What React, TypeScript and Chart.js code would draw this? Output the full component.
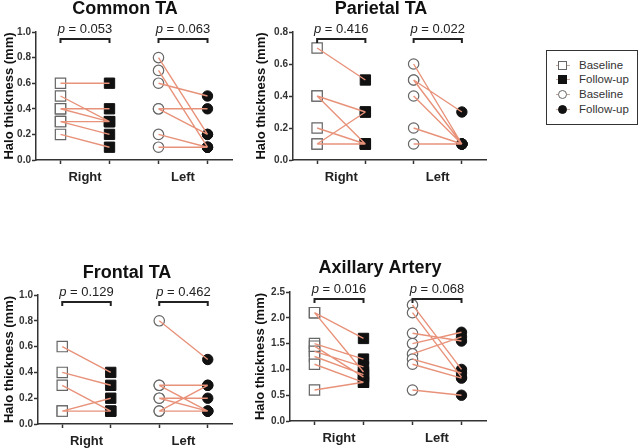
import React, { useEffect, useRef } from "react";
import { Chart, registerables } from "chart.js";

Chart.register(...registerables);

const FONT = "'Liberation Sans', Arial, Helvetica, sans-serif";
const LINE_COLOR = "#E8927A";
const AXIS_COLOR = "#333333";

const groupLabels = ["Right", "Left"];
const yAxisTitle = "Halo thickness (mm)";
const legendLabels = ["Baseline", "Follow-up", "Baseline", "Follow-up"];

// Common TA
const commonRightBaseline = [0.6, 0.5, 0.4, 0.4, 0.3, 0.3, 0.2];
const commonRightFollowUp = [0.6, 0.3, 0.4, 0.3, 0.3, 0.2, 0.1];
const commonLeftBaseline = [0.8, 0.7, 0.6, 0.4, 0.4, 0.2, 0.1];
const commonLeftFollowUp = [0.2, 0.1, 0.5, 0.4, 0.2, 0.1, 0.1];
const commonP = ["0.053", "0.063"];

// Parietal TA
const parietalRightBaseline = [0.7, 0.4, 0.4, 0.2, 0.1, 0.1];
const parietalRightFollowUp = [0.5, 0.3, 0.1, 0.1, 0.3, 0.1];
const parietalLeftBaseline = [0.6, 0.5, 0.5, 0.4, 0.2, 0.1];
const parietalLeftFollowUp = [0.1, 0.3, 0.1, 0.1, 0.1, 0.1];
const parietalP = ["0.416", "0.022"];

// Frontal TA
const frontalRightBaseline = [0.6, 0.4, 0.3, 0.1, 0.1];
const frontalRightFollowUp = [0.4, 0.3, 0.1, 0.2, 0.1];
const frontalLeftBaseline = [0.8, 0.3, 0.3, 0.2, 0.2, 0.1, 0.1];
const frontalLeftFollowUp = [0.5, 0.3, 0.1, 0.2, 0.1, 0.3, 0.1];
const frontalP = ["0.129", "0.462"];

// Axillary Artery
const axillaryRightBaseline = [2.1, 2.1, 1.5, 1.45, 1.35, 1.25, 1.1, 0.6];
const axillaryRightFollowUp = [1.6, 0.95, 1.2, 0.85, 1.05, 0.9, 0.75, 0.75];
const axillaryLeftBaseline = [2.25, 2.1, 1.7, 1.5, 1.3, 1.2, 1.1, 0.6];
const axillaryLeftFollowUp = [1.0, 0.85, 1.55, 1.72, 1.63, 0.93, 0.83, 0.5];
const axillaryP = ["0.016", "0.068"];

type Box = { left: number; top: number; width: number; height: number };
type Area = { left: number; top: number; right: number; bottom: number };

type PanelProps = {
  title: string;
  rightBase: number[];
  rightFollow: number[];
  leftBase: number[];
  leftFollow: number[];
  pValues: string[];
  yMax: number;
  yStep: number;
  box: Box;
  area: Area;
  titleX: number;
  titleY: number;
};

function pairPoints(xa: number, xb: number, base: number[], follow: number[]) {
  const pts: { x: number; y: number | null }[] = [];
  base.forEach((b, i) => {
    pts.push({ x: xa, y: b }, { x: xb, y: follow[i] }, { x: xb, y: null });
  });
  return pts;
}

function Panel(props: PanelProps) {
  const ref = useRef<HTMLCanvasElement | null>(null);
  useEffect(() => {
    const { box, area } = props;
    const annot = {
      id: "annot",
      afterDraw(chart: any) {
        const ctx = chart.ctx;
        const xs = chart.scales.x;
        const top = chart.chartArea.top;
        ctx.save();
        ctx.font = `bold 18px ${FONT}`;
        ctx.fillStyle = "#111";
        ctx.textAlign = "center";
        ctx.textBaseline = "middle";
        ctx.fillText(props.title, props.titleX - box.left, props.titleY - box.top);
        [
          [1, 2],
          [3, 4],
        ].forEach(([a, b], i) => {
          const xa = xs.getPixelForValue(a);
          const xb = xs.getPixelForValue(b);
          const mid = (xa + xb) / 2;
          const pPart = "p";
          const rest = " = " + props.pValues[i];
          ctx.font = `italic 13px ${FONT}`;
          const w1 = ctx.measureText(pPart).width;
          ctx.font = `13px ${FONT}`;
          const w2 = ctx.measureText(rest).width;
          const start = mid - (w1 + w2) / 2;
          ctx.textAlign = "left";
          ctx.textBaseline = "alphabetic";
          ctx.fillStyle = "#222";
          ctx.font = `italic 13px ${FONT}`;
          ctx.fillText(pPart, start, top + 1);
          ctx.font = `13px ${FONT}`;
          ctx.fillText(rest, start + w1, top + 1);
          ctx.strokeStyle = "#222";
          ctx.lineWidth = 2;
          ctx.beginPath();
          ctx.moveTo(xa, top + 11);
          ctx.lineTo(xa, top + 7);
          ctx.lineTo(xb, top + 7);
          ctx.lineTo(xb, top + 11);
          ctx.stroke();
        });
        ctx.restore();
      },
    };

    const openSq = {
      pointStyle: "rect",
      pointRadius: 7.3,
      pointBackgroundColor: "#ffffff",
      pointBorderColor: "#666666",
      pointBorderWidth: 1.2,
    };
    const fillSq = {
      pointStyle: "rect",
      pointRadius: 7.3,
      pointBackgroundColor: "#111111",
      pointBorderColor: "#111111",
      pointBorderWidth: 1,
    };
    const openCi = {
      pointStyle: "circle",
      pointRadius: 5.2,
      pointBackgroundColor: "#ffffff",
      pointBorderColor: "#666666",
      pointBorderWidth: 1.2,
    };
    const fillCi = {
      pointStyle: "circle",
      pointRadius: 5.2,
      pointBackgroundColor: "#111111",
      pointBorderColor: "#111111",
      pointBorderWidth: 1,
    };

    const markers = (x: number, vals: number[], style: any) => ({
      type: "line",
      data: vals.map((v) => ({ x, y: v })),
      showLine: false,
      order: 1,
      ...style,
    });
    const lines = (xa: number, xb: number, base: number[], follow: number[]) => ({
      type: "line",
      data: pairPoints(xa, xb, base, follow),
      borderColor: LINE_COLOR,
      borderWidth: 1.4,
      pointRadius: 0,
      spanGaps: false,
      order: 0,
    });

    const chart = new Chart(ref.current as HTMLCanvasElement, {
      type: "line",
      data: {
        datasets: [
          markers(1, props.rightBase, openSq),
          markers(2, props.rightFollow, fillSq),
          markers(3, props.leftBase, openCi),
          markers(4, props.leftFollow, fillCi),
          lines(1, 2, props.rightBase, props.rightFollow),
          lines(3, 4, props.leftBase, props.leftFollow),
        ] as any,
      },
      options: {
        animation: false,
        responsive: false,
        devicePixelRatio: 1,
        layout: {
          padding: {
            left: 0,
            top: area.top - box.top,
            right: box.left + box.width - area.right,
            bottom: 0,
          },
        },
        plugins: {
          legend: { display: false },
          tooltip: { enabled: false },
          title: { display: false },
        },
        scales: {
          x: {
            type: "linear",
            min: 0.5,
            max: 4.5,
            afterBuildTicks: (s: any) => {
              s.ticks = [1, 1.5, 2, 3, 3.5, 4].map((v) => ({ value: v }));
            },
            afterFit: (s: any) => {
              s.height = box.top + box.height - area.bottom;
            },
            grid: {
              drawOnChartArea: false,
              drawTicks: true,
              tickLength: 4,
              tickWidth: 1.5,
              tickColor: (c: any) =>
                c.tick && (c.tick.value === 1.5 || c.tick.value === 3.5)
                  ? "rgba(0,0,0,0)"
                  : AXIS_COLOR,
            },
            border: { color: AXIS_COLOR, width: 1.5 },
            ticks: {
              autoSkip: false,
              maxRotation: 0,
              padding: 6,
              color: "#222",
              font: { family: FONT, size: 13, weight: "bold" },
              callback: (v: any) =>
                v === 1.5 ? groupLabels[0] : v === 3.5 ? groupLabels[1] : "",
            },
          },
          y: {
            min: 0,
            max: props.yMax,
            afterFit: (s: any) => {
              s.width = area.left - box.left;
            },
            grid: {
              drawOnChartArea: false,
              drawTicks: true,
              tickLength: 4,
              tickWidth: 1.5,
              tickColor: AXIS_COLOR,
            },
            border: { color: AXIS_COLOR, width: 1.5 },
            ticks: {
              stepSize: props.yStep,
              padding: 1,
              color: "#333",
              font: { family: FONT, size: 10, weight: "bold" },
              callback: (v: any) => Number(v).toFixed(1),
            },
            title: {
              display: true,
              text: yAxisTitle,
              color: "#111",
              font: { family: FONT, size: 13, weight: "bold" },
              padding: { top: 2, bottom: 0 },
            },
          },
        },
      } as any,
      plugins: [annot],
    });
    return () => chart.destroy();
  }, []);
  const { box } = props;
  return (
    <canvas
      ref={ref}
      width={box.width}
      height={box.height}
      style={{
        position: "absolute",
        left: box.left,
        top: box.top,
        width: box.width,
        height: box.height,
      }}
    />
  );
}

function LegendBox() {
  const rows = [65, 79, 94, 109];
  const markerStyles: React.CSSProperties[] = [
    { background: "#fff", border: "1px solid #666", borderRadius: 0 },
    { background: "#111", border: "1px solid #111", borderRadius: 0 },
    { background: "#fff", border: "1px solid #666", borderRadius: "50%" },
    { background: "#111", border: "1px solid #111", borderRadius: "50%" },
  ];
  return (
    <div>
      <div
        style={{
          position: "absolute",
          left: 546,
          top: 50,
          width: 92,
          height: 75,
          border: "1.5px solid #333",
          boxSizing: "border-box",
        }}
      />
      {rows.map((y, i) => (
        <React.Fragment key={i}>
          <div
            style={{
              position: "absolute",
              left: 556,
              top: y,
              width: 14,
              height: 1,
              background: "#c9a99c",
            }}
          />
          <div
            style={{
              position: "absolute",
              left: 558,
              top: y - 4.5,
              width: 9,
              height: 9,
              boxSizing: "border-box",
              ...markerStyles[i],
            }}
          />
          <div
            style={{
              position: "absolute",
              left: 579,
              top: y - 7,
              height: 14,
              lineHeight: "14px",
              fontFamily: FONT,
              fontSize: 11.5,
              color: "#333",
              whiteSpace: "nowrap",
            }}
          >
            {legendLabels[i]}
          </div>
        </React.Fragment>
      ))}
    </div>
  );
}

export default function App() {
  return (
    <div
      style={{
        position: "fixed",
        left: 0,
        top: 0,
        width: 640,
        height: 448,
        background: "#fff",
        overflow: "hidden",
      }}
    >
      <Panel
        title="Common TA"
        rightBase={commonRightBaseline}
        rightFollow={commonRightFollowUp}
        leftBase={commonLeftBaseline}
        leftFollow={commonLeftFollowUp}
        pValues={commonP}
        yMax={1.0}
        yStep={0.2}
        box={{ left: 0, top: 0, width: 250, height: 195 }}
        area={{ left: 36, top: 32, right: 232, bottom: 160 }}
        titleX={125}
        titleY={9}
      />
      <Panel
        title="Parietal TA"
        rightBase={parietalRightBaseline}
        rightFollow={parietalRightFollowUp}
        leftBase={parietalLeftBaseline}
        leftFollow={parietalLeftFollowUp}
        pValues={parietalP}
        yMax={0.8}
        yStep={0.2}
        box={{ left: 252, top: 0, width: 250, height: 195 }}
        area={{ left: 293, top: 32, right: 486, bottom: 160 }}
        titleX={381}
        titleY={9}
      />
      <Panel
        title="Frontal TA"
        rightBase={frontalRightBaseline}
        rightFollow={frontalRightFollowUp}
        leftBase={frontalLeftBaseline}
        leftFollow={frontalLeftFollowUp}
        pValues={frontalP}
        yMax={1.0}
        yStep={0.2}
        box={{ left: 0, top: 245, width: 250, height: 203 }}
        area={{ left: 38, top: 295, right: 232, bottom: 424 }}
        titleX={127}
        titleY={273}
      />
      <Panel
        title="Axillary Artery"
        rightBase={axillaryRightBaseline}
        rightFollow={axillaryRightFollowUp}
        leftBase={axillaryLeftBaseline}
        leftFollow={axillaryLeftFollowUp}
        pValues={axillaryP}
        yMax={2.5}
        yStep={0.5}
        box={{ left: 251, top: 245, width: 250, height: 203 }}
        area={{ left: 290, top: 292, right: 486, bottom: 421 }}
        titleX={380}
        titleY={268}
      />
      <LegendBox />
    </div>
  );
}
